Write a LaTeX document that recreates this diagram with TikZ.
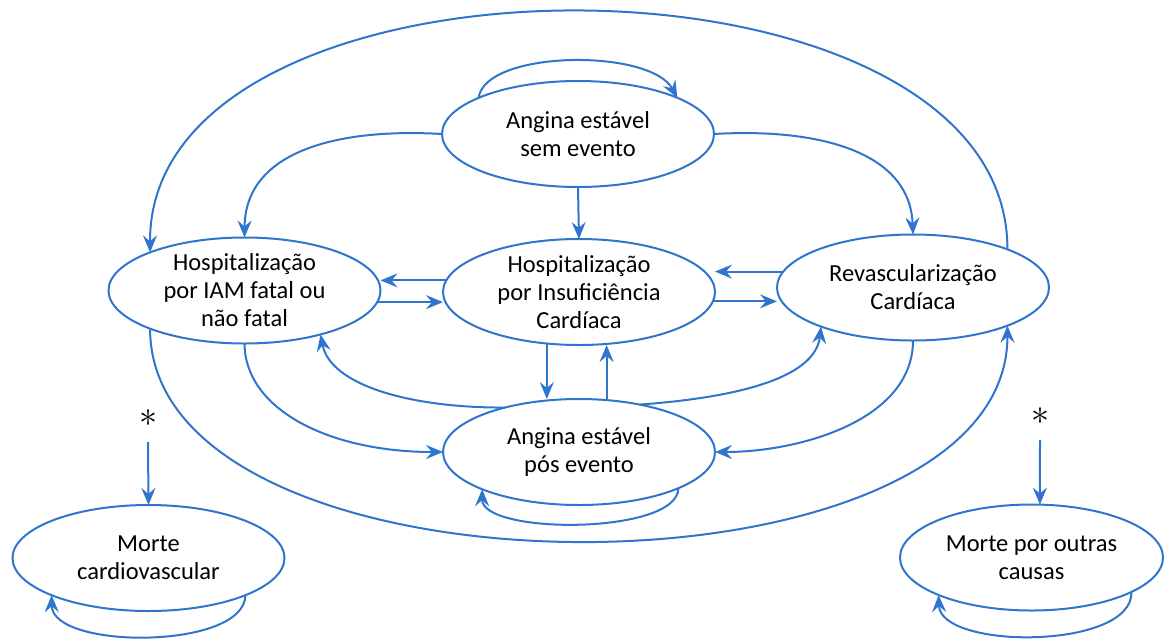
\documentclass[tikz,border=0pt]{standalone}
\usepackage{fontspec}
\setmainfont{Carlito}
\usetikzlibrary{arrows.meta, shapes.geometric}
\definecolor{cblue}{HTML}{2F75CD}
\tikzset{
  every picture/.style={line width=2pt},
  seta/.style={-{Stealth[length=17pt, width=14pt, inset=6pt]}, draw=cblue, line width=2pt},
}

\begin{document}
\begin{tikzpicture}[x=1pt, y=-1pt,
  estado/.style={ellipse, draw=cblue, fill=white, inner sep=0pt, outer sep=0pt, align=center, minimum width=#1, minimum height=106pt, font=\fontsize{24.5}{28}\selectfont},
  estado/.default=272pt,
  ast/.style={inner sep=0pt, minimum height=46pt}]
  \useasboundingbox (0,0) rectangle (1164,638);
  \node[estado] (semEvento) at (578,134) {Angina estável\\sem evento};
  \node[estado] (hospIAM) at (244.5,290.5) {Hospitalização\\por IAM fatal ou\\não fatal};
  \node[estado] (hospIC) at (579,292) {Hospitalização\\por Insuficiência\\Cardíaca};
  \node[estado] (revasc) at (913,287.5) {Revascularização\\Cardíaca};
  \node[estado] (posEvento) at (579,452) {Angina estável\\pós evento};
  \node[estado] (morteCV) at (148.5,558) {Morte\\cardiovascular};
  \node[estado=263pt] (morteOutras) at (1031.5,557.5) {Morte por outras\\causas};
  \node[ast] (astCV) at (148,418) {\scalebox{3.6}{$\ast$}};
  \node[ast] (astOutras) at (1040,416) {\scalebox{3.6}{$\ast$}};
  \draw[seta] (semEvento.160) .. controls (485,50) and (650,48) .. (semEvento.20);
  \draw[seta] (semEvento.180) .. controls (340,128) and (245,150) .. (hospIAM.north);
  \draw[seta] (semEvento.0) .. controls (815,128) and (910,150) .. (revasc.north);
  \draw[seta] (semEvento.south) -- (hospIC.north);
  \draw[seta] (revasc.22) .. controls (1008,-68) and (148,-68) .. (hospIAM.158);
  \draw[seta] (hospIC.175) -- (hospIC.175 -| hospIAM.east);
  \draw[seta] (hospIAM.-5) -- (hospIAM.-5 -| hospIC.west);
  \draw[seta] (revasc.173) -- (revasc.173 -| hospIC.east);
  \draw[seta] (hospIC.-4) -- (hospIC.-4 -| revasc.west);
  \draw[seta] (hospIC.238) -- (hospIC.238 |- posEvento.north);
  \draw[seta] (posEvento.62) -- (posEvento.62 |- hospIC.south);
  \draw[seta] (hospIAM.south) .. controls (245,410) and (330,452) .. (posEvento.west);
  \draw[seta] (posEvento.149) .. controls (410,408) and (330,385) .. (hospIAM.-30);
  \draw[seta] (posEvento.38) .. controls (730,398) and (815,380) .. (revasc.203);
  \draw[seta] (revasc.south) .. controls (913,420) and (800,452) .. (posEvento.east);
  \draw[seta] (hospIAM.202) .. controls (150,612) and (1008,612) .. (revasc.338);
  \draw[seta] (posEvento.-20) .. controls (678,535) and (482,535) .. (posEvento.201);
  \draw[seta] (morteCV.-21) .. controls (245,650) and (52,650) .. (morteCV.201);
  \draw[seta] (morteOutras.-19) .. controls (1133,650) and (940,650) .. (morteOutras.202);
  \draw[seta] (astCV.south) -- (morteCV.north);
  \draw[seta] (astOutras.south) -- (morteOutras.81);
\end{tikzpicture}
\end{document}
